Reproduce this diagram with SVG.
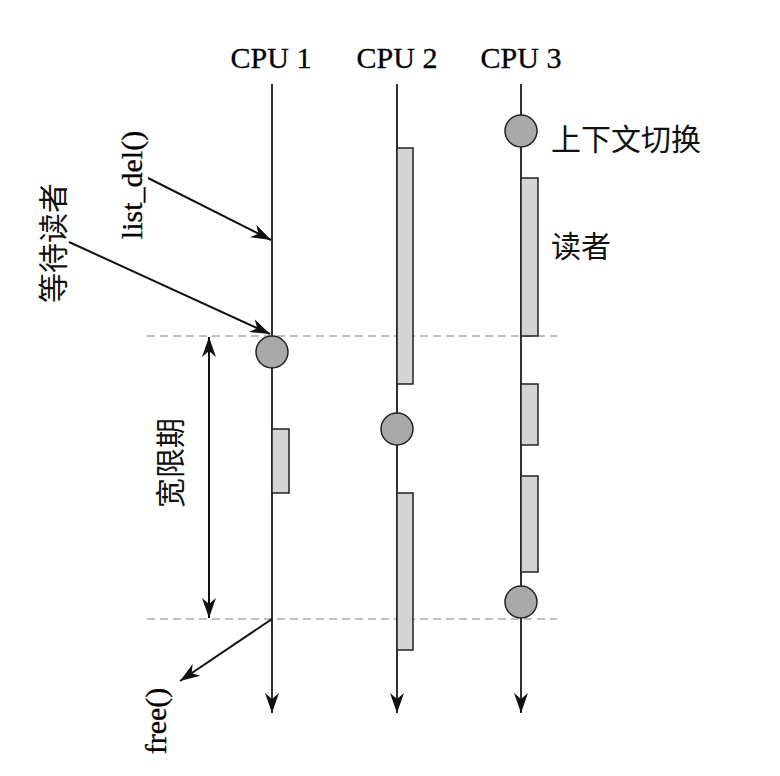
<svg xmlns="http://www.w3.org/2000/svg" width="780" height="776" viewBox="0 0 780 776">
<style>
.lat{font-family:"Liberation Serif","Times New Roman",serif;font-size:30px;fill:#000;stroke:#000;stroke-width:0.3}
.cjk{font-family:"Noto Sans CJK SC","Noto Sans",sans-serif;font-size:30px;fill:#111}
.cpu{stroke:#1a1a1a;stroke-width:1.8;fill:none}
.arr{stroke:#111;stroke-width:2;fill:none}
.dash{stroke:#aaa;stroke-width:1.5;stroke-dasharray:8 5;fill:none}
.box{fill:#d4d4d4;stroke:#222;stroke-width:1.5}
.dot{fill:#a9a9a9;stroke:#222;stroke-width:1.5}
</style>
<defs>
<marker id="ah" viewBox="-20 -8 21 16" refX="0" refY="0" markerWidth="21" markerHeight="16" markerUnits="userSpaceOnUse" orient="auto">
<path d="M0,0 L-20,-7 L-14,0 L-20,7 Z" fill="#111"/>
</marker>
<marker id="ahs" viewBox="-20 -8 21 16" refX="0" refY="0" markerWidth="21" markerHeight="16" markerUnits="userSpaceOnUse" orient="auto-start-reverse">
<path d="M0,0 L-20,-7 L-14,0 L-20,7 Z" fill="#111"/>
</marker>
</defs>
<g id="guides">
<line class="dash" x1="147" y1="336" x2="557" y2="336"/>
<line class="dash" x1="147" y1="619" x2="557" y2="619"/>
</g>
<g id="connectors">
<line class="cpu" x1="272" y1="84" x2="272" y2="713" marker-end="url(#ah)"/>
<line class="cpu" x1="397" y1="84" x2="397" y2="713" marker-end="url(#ah)"/>
<line class="cpu" x1="521" y1="84" x2="521" y2="713" marker-end="url(#ah)"/>
<line class="arr" x1="148" y1="178" x2="271" y2="240" marker-end="url(#ah)"/>
<line class="arr" x1="69" y1="242" x2="270" y2="334" marker-end="url(#ah)"/>
<line class="arr" x1="272" y1="619" x2="180" y2="681" marker-end="url(#ah)"/>
<line class="arr" x1="209" y1="337" x2="209" y2="618" marker-start="url(#ahs)" marker-end="url(#ah)"/>
</g>
<g id="cpu1">
<text class="lat" x="271" y="68" text-anchor="middle">CPU 1</text>
<circle class="dot" cx="272" cy="352" r="16"/>
<rect class="box" x="272" y="429" width="17" height="64"/>
</g>
<g id="cpu2">
<text class="lat" x="397" y="68" text-anchor="middle">CPU 2</text>
<rect class="box" x="397" y="148" width="16" height="236"/>
<circle class="dot" cx="397" cy="429" r="16"/>
<rect class="box" x="397" y="493" width="16" height="157"/>
</g>
<g id="cpu3">
<text class="lat" x="521" y="68" text-anchor="middle">CPU 3</text>
<circle class="dot" cx="521" cy="131" r="16"/>
<rect class="box" x="521" y="178" width="17" height="158"/>
<rect class="box" x="521" y="384" width="17" height="61"/>
<rect class="box" x="521" y="476" width="17" height="96"/>
<circle class="dot" cx="521" cy="602" r="16"/>
</g>
<g id="labels">
<text class="cjk" x="551" y="150">上下文切换</text>
<text class="cjk" x="551" y="257">读者</text>
<text class="lat" transform="translate(142,185) rotate(-90)" text-anchor="middle">list_del()</text>
<text class="cjk" transform="translate(64,243) rotate(-90)" text-anchor="middle">等待读者</text>
<text class="cjk" transform="translate(181,463) rotate(-90)" text-anchor="middle">宽限期</text>
<text class="lat" transform="translate(166,721) rotate(-90)" text-anchor="middle">free()</text>
</g>
</svg>
